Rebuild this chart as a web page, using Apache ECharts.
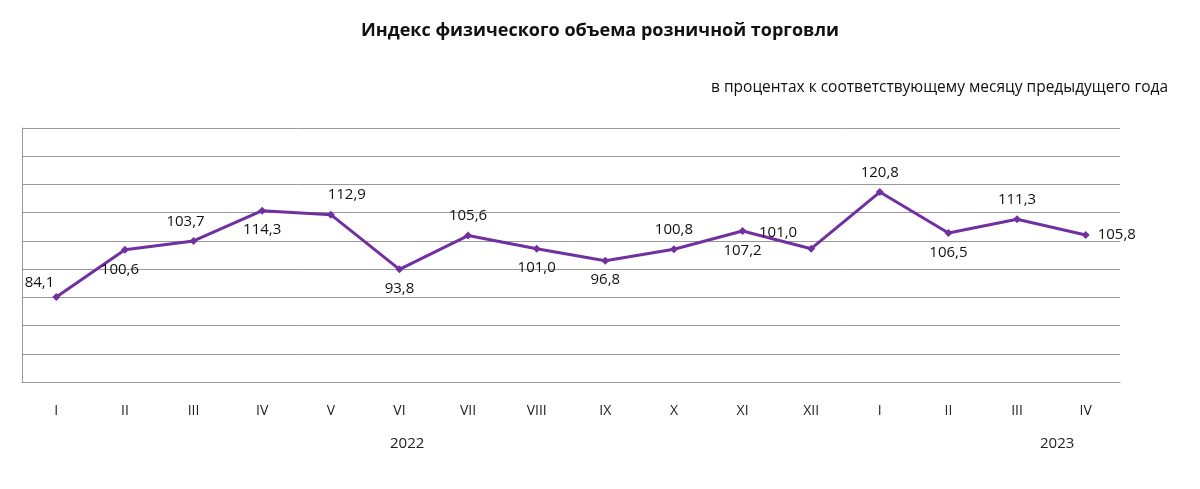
<!DOCTYPE html>
<html><head><meta charset="utf-8">
<script src="https://cdn.jsdelivr.net/npm/echarts@6/dist/echarts.min.js"></script>
<style>body{margin:0}#c{width:1200px;height:489px}</style></head>
<body><div id="c"></div>
<script>
const categories=['I','II','III','IV','V','VI','VII','VIII','IX','X','XI','XII','I','II','III','IV'];
const values=[84.1,100.6,103.7,114.3,112.9,93.8,105.6,101.0,96.8,100.8,107.2,101.0,120.8,106.5,111.3,105.8];
const labelPos=['left','bottom','top','bottom','top','bottom','top','bottom','bottom','top','bottom','left','top','bottom','top','right'];
const yearLabels=['2022','2023'];
const fmt=v=>v.toFixed(1).replace('.',',');
const data=values.map((v,i)=>{
  const p=labelPos[i];
  let off=[0,0];
  if(i===0)off=[10,-14];
  if(i===1)off=[-5,0];
  if(i===2)off=[-8,0];
  if(i===4)off=[16,0];
  if(i===11)off=[-2,-16];
  return {value:v,label:{position:p,offset:off,distance:8}};
});
const chart=echarts.init(document.getElementById('c'));
chart.setOption({
  title:{text:'Индекс физического объема розничной торговли',left:'center',top:17,textStyle:{fontFamily:'Open Sans',fontSize:18,fontWeight:'bold',color:'#111'}},
  graphic:[
    {type:'text',right:32,top:80,style:{text:'в процентах к соответствующему месяцу предыдущего года',font:'15.5px "Open Sans"',fill:'#111'}},
    {type:'text',left:390,top:436,style:{text:yearLabels[0],font:'15px "Open Sans"',fill:'#222'}},
    {type:'text',left:1040,top:436,style:{text:yearLabels[1],font:'15px "Open Sans"',fill:'#222'}}
  ],
  grid:{left:22,right:80,top:128,bottom:107},
  xAxis:{type:'category',data:categories,boundaryGap:true,axisLine:{lineStyle:{color:'#999'}},axisTick:{show:false},axisLabel:{margin:22,fontSize:14,fontFamily:'Open Sans',color:'#222'}},
  yAxis:[
    {type:'value',min:54.4,max:143.2,axisLabel:{show:false},axisLine:{show:true,lineStyle:{color:'#999'}},splitLine:{show:false}},
    {type:'value',min:0,max:9,interval:1,position:'left',axisLabel:{show:false},axisLine:{show:false},axisTick:{show:false},splitLine:{lineStyle:{color:'#999'}}}
  ],
  series:[{type:'line',yAxisIndex:0,data:data,symbol:'diamond',symbolSize:8,lineStyle:{color:'#7030a0',width:3},itemStyle:{color:'#7030a0'},
    label:{show:true,formatter:p=>fmt(p.value),fontSize:15,fontFamily:'Open Sans',color:'#111'}}]
});
</script></body></html>
